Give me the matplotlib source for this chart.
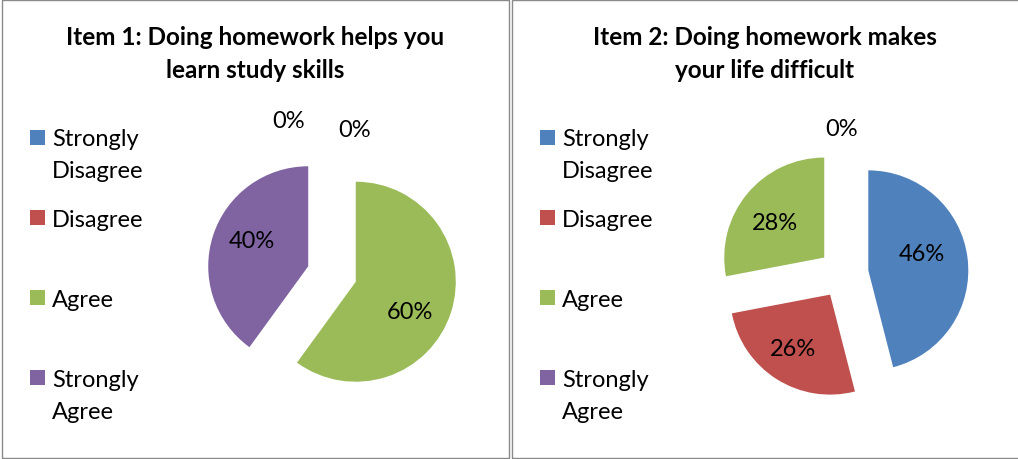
import matplotlib.pyplot as plt
from matplotlib.patches import Rectangle
import numpy as np

plt.rcParams['font.family'] = ['Lato', 'DejaVu Sans']

# --- data ---
categories = ["Strongly Disagree", "Disagree", "Agree", "Strongly Agree"]
legend_labels = ["Strongly\nDisagree", "Disagree", "Agree", "Strongly\nAgree"]
colors = ["#4F81BD", "#C0504D", "#9BBB59", "#8064A2"]

item1_title = "Item 1: Doing homework helps you\nlearn study skills"
item1_values = [0, 0, 60, 40]

item2_title = "Item 2: Doing homework makes\nyour life difficult"
item2_values = [46, 26, 28, 0]

# layout (pixels, figure is 1018 x 460)
W, H = 1018, 460
EXPLODE = 0.25
panels = [
    dict(x0=1.5, x1=508.5, title=item1_title, values=item1_values,
         cx=332, cy=275,
         label_shift={2: (-0.03, -0.11), 3: (0.01, 0.07)},
         zero_pos={0: (-0.43, 1.53), 1: (0.23, 1.44)}),
    dict(x0=511.5, x1=1020, title=item2_title, values=item2_values,
         cx=843.5, cy=274.5,
         label_shift={0: (-0.06, 0.09), 1: (-0.05, -0.03), 2: (-0.03, -0.035)},
         zero_pos={3: (-0.015, 1.455)}),
]

fig = plt.figure(figsize=(W / 100, H / 100), dpi=100)


def fx(x):
    return x / W


def fy(y):
    return 1 - y / H


for p in panels:
    # panel border
    fig.add_artist(Rectangle((fx(p["x0"]), fy(458.5)), fx(p["x1"] - p["x0"]),
                             (458.5 - 1) / H, transform=fig.transFigure,
                             fill=False, edgecolor="#8a8a8a", linewidth=1.0))
    mid = (p["x0"] + min(p["x1"], 1018.5)) / 2
    for j, line in enumerate(p["title"].split("\n")):
        fig.text(fx(mid), fy(45 + j * 33), line, ha="center", va="baseline",
                 fontsize=17.5, fontweight="bold")

    # legend
    lx = p["x0"] + 28.5
    for i, (lab, col) in enumerate(zip(legend_labels, colors)):
        yc = 138 + i * 80.3
        fig.add_artist(Rectangle((fx(lx), fy(yc + 7.5)), 15 / W, 15 / H,
                                 transform=fig.transFigure, facecolor=col,
                                 edgecolor="none"))
        for j, line in enumerate(lab.split("\n")):
            fig.text(fx(lx + 22), fy(yc + 8.5 + j * 32), line, ha="left",
                     va="baseline", fontsize=17)

    # pie, 1 data unit = 100 px
    half = 170
    ax = fig.add_axes([fx(p["cx"] - half), fy(p["cy"] + half),
                       2 * half / W, 2 * half / H])
    wedges, texts, autotexts = ax.pie(
        p["values"], colors=colors, startangle=90, counterclock=False,
        explode=[EXPLODE] * len(p["values"]), autopct="%1.0f%%",
        pctdistance=0.6, radius=1, textprops=dict(fontsize=17),
        wedgeprops=dict(linewidth=0), frame=True)
    ax.set_xlim(-1.7, 1.7)
    ax.set_ylim(-1.7, 1.7)
    ax.set_aspect("equal")
    ax.axis("off")
    for k, t in enumerate(autotexts):
        if k in p["zero_pos"]:
            t.set_position(p["zero_pos"][k])
        elif k in p["label_shift"]:
            x, y = t.get_position()
            dx, dy = p["label_shift"][k]
            t.set_position((x + dx, y + dy))
        t.set_color("black")
        t.set_clip_on(False)

fig.savefig("out.png", dpi=100, facecolor="white")
